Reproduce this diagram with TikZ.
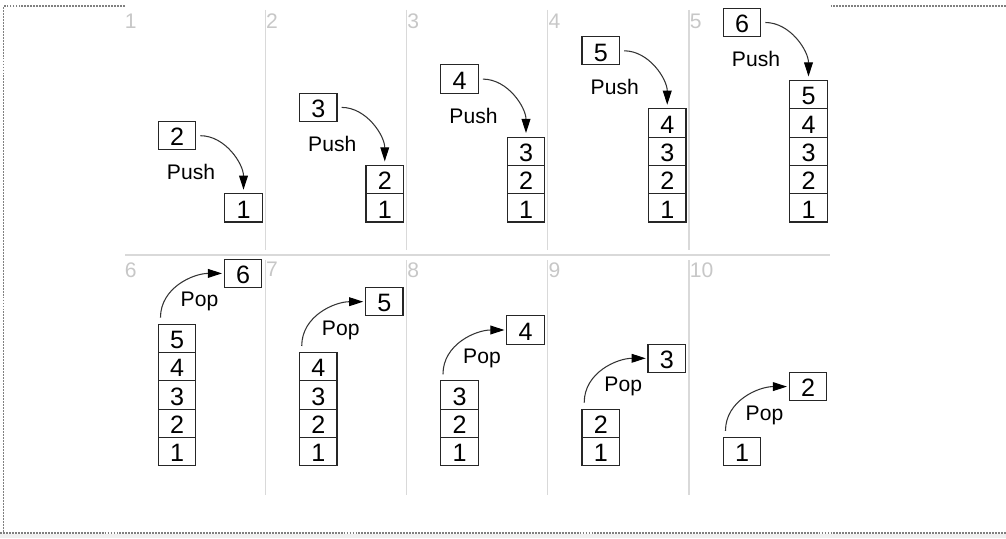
\documentclass[tikz,border=0pt]{standalone}
\usepackage{fontspec}
\setmainfont{Liberation Sans}
\usetikzlibrary{arrows.meta}
\tikzstyle{cell}=[draw=black!85, line width=0.6pt, minimum width=0.75cm, minimum height=0.566cm, inner sep=0pt, font=\fontsize{14.3}{16}\selectfont, text height=11.7pt, text depth=0pt]
\tikzstyle{panelnum}=[text=black!22, anchor=north west, inner sep=0pt]
\tikzstyle{divider}=[draw=black!15, line width=0.8pt]
\tikzstyle{edge}=[draw=black!80, line width=0.6pt, -{Triangle[length=8pt,width=5pt,color=black]}]
\tikzstyle{opname}=[inner sep=0pt]
\tikzstyle{frame}=[draw=black!50, line width=0.6pt, dash pattern=on 1.1pt off 0.6pt]

\begin{document}
\begin{tikzpicture}[font=\fontsize{12}{14}\selectfont]

    \useasboundingbox (0,0) rectangle (20.12,10.76);

    % window frame
    \fill[black!6] (0,0) rectangle (20.12,0.09);
    \draw[frame] (2.5,10.64) -- (0.066,10.64) -- (0.066,0.1);
    \draw[frame] (0,0.1) -- (20.12,0.1);
    \draw[frame] (16.61,10.64) -- (20.12,10.64);

    % panel grid
    \foreach \k in {1,...,4} {
        \draw[divider] ({2.48+\k*2.825}, 10.56) -- ({2.48+\k*2.825}, 5.76);
        \draw[divider] ({2.48+\k*2.825}, 5.56) -- ({2.48+\k*2.825}, 0.86);
    }
    \draw[divider] (2.5, 5.66) -- (16.6, 5.66);

    \foreach \k in {1,...,5}
        \node[panelnum] (num\k) at ({2.49+(\k-1)*2.825}, 10.494) {\k};
    \foreach \k in {6,...,10}
        \node[panelnum] (num\k) at ({2.49+(\k-6)*2.825}, 5.52) {\k};

    % push steps
    \foreach \k in {1,...,5} {
        \pgfmathsetmacro\sx{4.87+(\k-1)*2.825}
        \pgfmathsetmacro\sy{6.32+\k*0.566}
        \pgfmathtruncatemacro\nv{\k+1}
        \foreach \i in {1,...,\k}
            \node[cell] (s\k-\i) at (\sx, {6.32+(\i-0.5)*0.566}) {\i};
        \node[cell] (push\k) at ({\sx-1.33}, {\sy+1.16}) {\nv};
        \node[opname] (lbl\k) at ({\sx-1.05}, {\sy+0.43}) {Push};
        \path[edge, shorten <=2.3pt, shorten >=2pt] (push\k) to[out=0, in=90] (s\k-\k);
    }

    % pop steps
    \foreach \k/\n in {6/5, 7/4, 8/3, 9/2, 10/1} {
        \pgfmathsetmacro\sx{3.54+(\k-6)*2.825}
        \pgfmathsetmacro\sy{1.446+\n*0.566}
        \pgfmathtruncatemacro\nv{\n+1}
        \foreach \i in {1,...,\n}
            \node[cell] (s\k-\i) at (\sx, {1.446+(\i-0.5)*0.566}) {\i};
        \node[cell] (pop\k) at ({\sx+1.32}, {\sy+1.016}) {\nv};
        \node[opname] (lbl\k) at ({\sx+0.45}, {\sy+0.446}) {Pop};
        \path[edge, shorten >=1pt] ([shift={(0.055,0.12)}]s\k-\n.north west) to[out=90, in=180] (pop\k);
    }

\end{tikzpicture}
\end{document}
